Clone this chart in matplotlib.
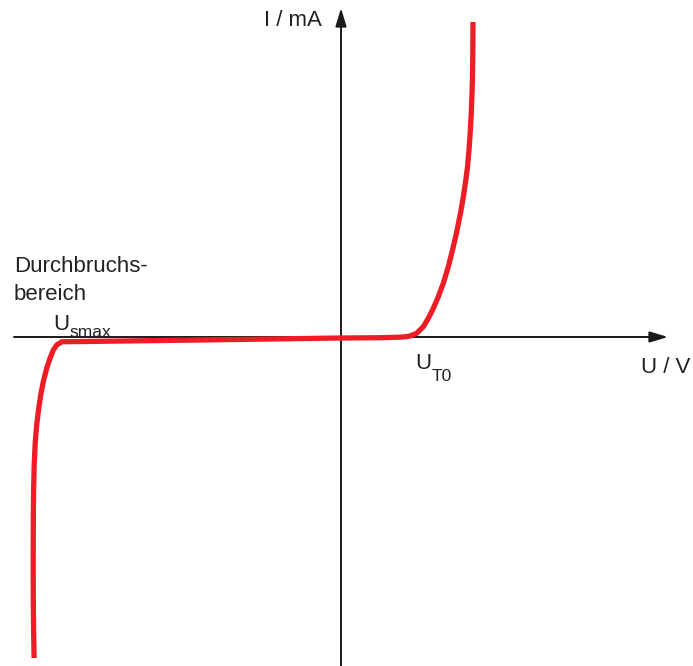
import matplotlib
matplotlib.use("Agg")
import matplotlib.pyplot as plt

plt.rcParams['font.family'] = ['Liberation Sans', 'DejaVu Sans']

# Forward branch (U, I) in chart units
u_forward = [0, 0.39, 0.59, 0.64, 0.69, 0.757, 0.823, 0.873, 0.923, 0.973, 1.023,
             1.073, 1.115, 1.155, 1.195, 1.223, 1.2455, 1.265, 1.28, 1.292, 1.302,
             1.309, 1.315, 1.318, 1.32]
i_forward = [-0.01, -0.007, -0.002, 0.002, 0.01, 0.037, 0.103, 0.187, 0.287, 0.403,
             0.537, 0.703, 0.87, 1.04, 1.24, 1.40, 1.55, 1.70, 1.87, 2.04, 2.22,
             2.40, 2.60, 2.82, 3.15]
# Reverse branch incl. breakdown region
u_reverse = [0, -1.41, -2.41, -2.75, -2.793, -2.843, -2.877, -2.91, -2.943, -2.977,
             -3.003, -3.027, -3.043, -3.058, -3.068, -3.074, -3.0765, -3.0775, -3.078,
             -3.077, -3.074, -3.069]
i_reverse = [-0.01, -0.03, -0.043, -0.047, -0.048, -0.08, -0.13, -0.213, -0.313, -0.447,
             -0.58, -0.747, -0.88, -1.06, -1.28, -1.53, -1.78, -2.03, -2.33, -2.63,
             -2.93, -3.21]

u_all = u_reverse[::-1] + u_forward[1:]
i_all = i_reverse[::-1] + i_forward[1:]

fig = plt.figure(figsize=(6.93, 6.66), dpi=100)
ax = fig.add_axes([0, 0, 1, 1])
ax.set_xlim(-3.41, 3.52)
ax.set_ylim(-3.29, 3.37)
ax.axis('off')

axis_color = '#1a1a1a'
ax.annotate('', xy=(3.27, 0), xytext=(-3.27, 0),
            arrowprops=dict(arrowstyle='-|>,head_length=1.1,head_width=0.33',
                            color=axis_color, lw=1.4, shrinkA=0, shrinkB=0))
ax.annotate('', xy=(0, 3.29), xytext=(0, -3.29),
            arrowprops=dict(arrowstyle='-|>,head_length=1.1,head_width=0.33',
                            color=axis_color, lw=1.4, shrinkA=0, shrinkB=0))

ax.plot(u_all, i_all, color='#ee1c25', lw=3.8, solid_capstyle='butt',
        solid_joinstyle='round', zorder=3)

tc = '#222222'
fs = 16
fs_sub = 12.5
ax.text(-0.19, 3.11, 'I / mA', fontsize=fs, color=tc, ha='right', va='baseline')
ax.text(3.49, -0.36, 'U / V', fontsize=fs, color=tc, ha='right', va='baseline')
ax.text(-3.27, 0.653, 'Durchbruchs-', fontsize=fs, color=tc, ha='left', va='baseline')
ax.text(-3.27, 0.37, 'bereich', fontsize=fs, color=tc, ha='left', va='baseline')

t1 = ax.text(0.74, -0.32, 'U', fontsize=fs, color=tc, ha='left', va='baseline')
ax.annotate('T0', xy=(1, 0), xycoords=t1, xytext=(0.3, -5), textcoords='offset points',
            fontsize=fs_sub, color=tc, ha='left', va='baseline')
t2 = ax.text(-2.88, 0.075, 'U', fontsize=fs, color=tc, ha='left', va='baseline')
ax.annotate('smax', xy=(1, 0), xycoords=t2, xytext=(0.3, -1.5), textcoords='offset points',
            fontsize=fs_sub, color=tc, ha='left', va='baseline')

fig.savefig('out.png', dpi=100)
